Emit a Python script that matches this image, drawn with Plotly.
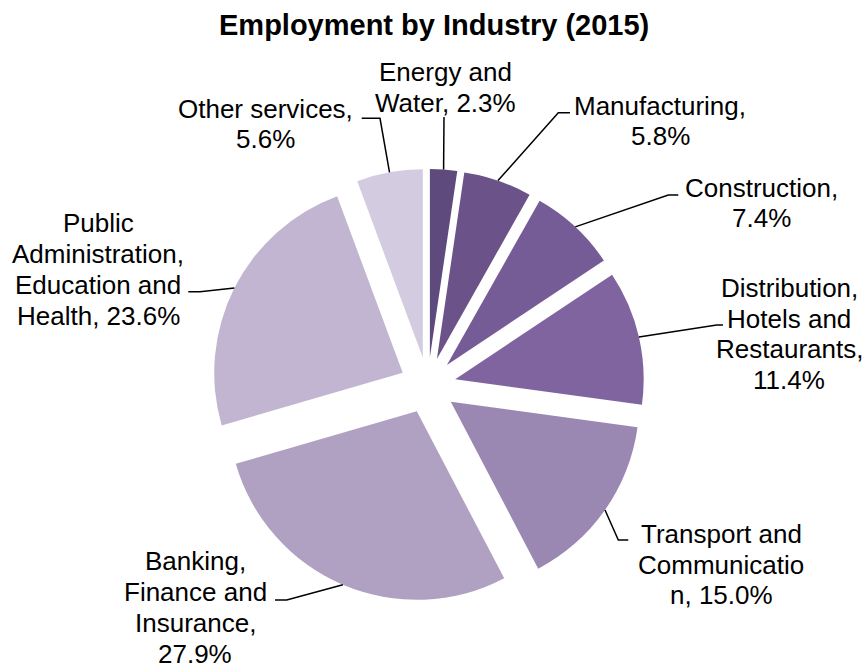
import math
import plotly.graph_objects as go

# Employment share by industry, 2015 (percent)
industries = [
    "Energy and Water",
    "Manufacturing",
    "Construction",
    "Distribution, Hotels and Restaurants",
    "Transport and Communication",
    "Banking, Finance and Insurance",
    "Public Administration, Education and Health",
    "Other services",
]
shares = [2.3, 5.8, 7.4, 11.4, 15.0, 27.9, 23.6, 5.6]

# Wrapped label text; {pct} is filled from the share
label_lines = [
    ["Energy and", "Water, {pct}"],
    ["Manufacturing,", "{pct}"],
    ["Construction,", "{pct}"],
    ["Distribution,", "Hotels and", "Restaurants,", "{pct}"],
    ["Transport and", "Communicatio", "n, {pct}"],
    ["Banking,", "Finance and", "Insurance,", "{pct}"],
    ["Public", "Administration,", "Education and", "Health, {pct}"],
    ["Other services,", "{pct}"],
]

colors = ["#5f4a7d", "#6b5389", "#765c96", "#8064a0",
          "#9a88b3", "#b0a1c3", "#c1b5d1", "#d3cce0"]

# ---- layout geometry (pixels) ----
W, H = 867, 668
CX, CY = 427.8, 385.5        # pie centre
R = 188.5                     # slice radius
PULL = 0.149                  # explosion as a fraction of the radius
D = 2 * R * (1 + PULL)        # domain box side
FONT = "Arial, Liberation Sans, sans-serif"
LABEL_SIZE = 26
LINE_STEP = 30.7

# label block centre (x, y) and leader-line elbow / end points
label_pos = [
    (445, 87.5), (660, 121), (761, 203), (789, 334),
    (721, 564.5), (195, 607.5), (98, 269.5), (265, 124),
]
leader_pts = [
    [(444, 117)],
    [(558.3, 112.7), (570, 112.7)],
    [(668.3, 195), (678.3, 195)],
    [(716.7, 325), (723, 325)],
    [(618.3, 540), (628.3, 540)],
    [(286.7, 600), (275, 600)],
    [(200, 291.7), (188.3, 291.7)],
    [(380, 118.3), (361.7, 118.3)],
]


def px(x):
    return x / W


def py(y):
    return 1 - y / H


fig = go.Figure(
    go.Pie(
        labels=industries,
        values=shares,
        sort=False,
        direction="clockwise",
        rotation=0,
        pull=[PULL] * len(shares),
        marker=dict(colors=colors, line=dict(width=0)),
        textinfo="none",
        hoverinfo="label+percent",
        showlegend=False,
        domain=dict(x=[px(CX - D / 2), px(CX + D / 2)],
                    y=[py(CY + D / 2), py(CY - D / 2)]),
    )
)

total = sum(shares)
cum = 0.0
shapes = []
annotations = []
for i, v in enumerate(shares):
    mid = (cum + v / 2) / total * 2 * math.pi
    cum += v
    # point on the outer arc of the exploded slice
    ax = CX + R * (1 + PULL) * math.sin(mid)
    ay = CY - R * (1 + PULL) * math.cos(mid)
    pts = [(ax, ay)] + leader_pts[i]
    path = "M " + " L ".join(f"{px(x):.5f},{py(y):.5f}" for x, y in pts)
    shapes.append(dict(type="path", xref="paper", yref="paper", path=path,
                       line=dict(color="black", width=1.5)))

    lines = [s.format(pct=f"{v:.1f}%") for s in label_lines[i]]
    lx, ly = label_pos[i]
    n = len(lines)
    for k, t in enumerate(lines):
        yy = ly + (k - (n - 1) / 2) * LINE_STEP
        annotations.append(dict(
            text=t, x=px(lx), y=py(yy), xref="paper", yref="paper",
            xanchor="center", yanchor="middle", showarrow=False,
            font=dict(family=FONT, size=LABEL_SIZE, color="black"),
        ))

annotations.append(dict(
    text="<b>Employment by Industry (2015)</b>", x=0.5, y=py(25),
    xref="paper", yref="paper", xanchor="center", yanchor="middle",
    showarrow=False, font=dict(family=FONT, size=29, color="black"),
))

fig.update_layout(
    width=W, height=H, autosize=False,
    margin=dict(l=0, r=0, t=0, b=0),
    paper_bgcolor="white", plot_bgcolor="white",
    shapes=shapes, annotations=annotations,
)

fig.write_html("out.html")
